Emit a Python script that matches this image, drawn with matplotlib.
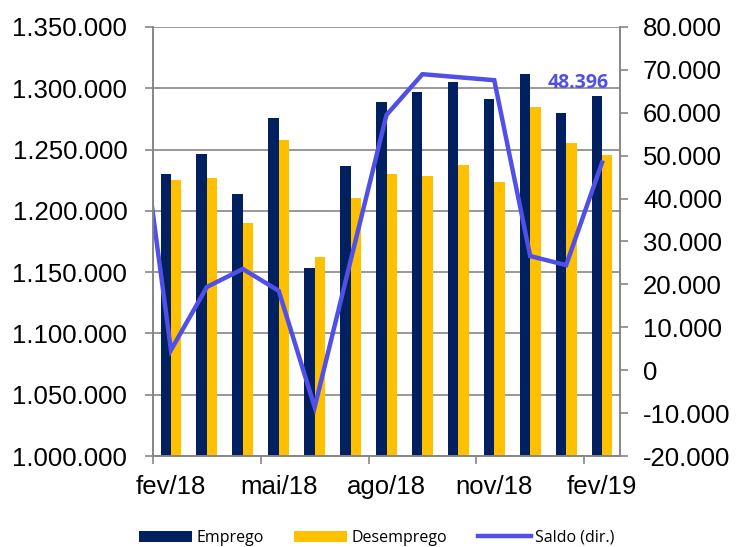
import matplotlib
matplotlib.use('Agg')
import matplotlib.pyplot as plt
from matplotlib.ticker import FuncFormatter
import numpy as np

# dados (meses fev/18 .. fev/19)
meses = ['fev/18', 'mar/18', 'abr/18', 'mai/18', 'jun/18', 'jul/18', 'ago/18',
         'set/18', 'out/18', 'nov/18', 'dez/18', 'jan/19', 'fev/19']
emprego = [1229800, 1246400, 1213800, 1276000, 1153600, 1236300, 1289100,
           1297200, 1305400, 1291000, 1311700, 1279800, 1293700]
desemprego = [1225200, 1227000, 1190300, 1257800, 1162400, 1210500, 1229800,
              1228700, 1237400, 1223500, 1285000, 1255100, 1245300]
# saldo comeca em jan/18 (fica cortado na borda esquerda)
saldo_jan18 = 68000
saldo = [4700, 19400, 23600, 18500, -8600, 25500, 59500,
         69000, 68300, 67600, 26600, 24500, 48396]
rotulos_x = ['fev/18', 'mai/18', 'ago/18', 'nov/18', 'fev/19']

navy = '#002060'
gold = '#FFC000'
roxo = '#5050E8'
cinza = '#868686'

plt.rcParams['font.family'] = ['Liberation Sans', 'DejaVu Sans']

fig = plt.figure(figsize=(7.36, 5.47), dpi=100)
ax = fig.add_axes([153/736, 1 - 456/547, (620 - 153)/736, (456 - 27)/547])
ax2 = ax.twinx()

x = np.arange(len(meses))
w = 0.29
ax.bar(x - w/2, emprego, w, color=navy, label='Emprego', zorder=2)
ax.bar(x + w/2, desemprego, w, color=gold, label='Desemprego', zorder=2)

xs = np.concatenate([[-1], x])
ys = [saldo_jan18] + saldo
ax2.plot(xs, ys, color=roxo, lw=3.2, label='Saldo (dir.)', solid_joinstyle='miter')
ax2.annotate(f'{saldo[-1]:,.0f}'.replace(',', '.'), (x[-1], saldo[-1]),
             xytext=(7, 75), textcoords='offset pixels', ha='right', va='baseline',
             color=roxo, fontsize=14, fontweight='bold', family=['Open Sans', 'DejaVu Sans'])

ax.set_xlim(-0.5, len(meses) - 0.5)
ax.set_ylim(1000000, 1350000)
ax.set_yticks(np.arange(1000000, 1350001, 50000))
ax2.set_ylim(-20000, 80000)
ax2.set_yticks(np.arange(-20000, 80001, 10000))

fmt = FuncFormatter(lambda v, p: f'{v:,.0f}'.replace(',', '.'))
ax.yaxis.set_major_formatter(fmt)
ax2.yaxis.set_major_formatter(fmt)

# rotulos no centro do mes, marcas nas divisas
ax.set_xticks(np.arange(0, len(meses), 3))
ax.set_xticklabels(rotulos_x)
ax.set_xticks(np.arange(-0.5, len(meses), 3), minor=True)

ax.grid(axis='y', color=cinza, lw=1.2, zorder=0)
ax.set_axisbelow(True)

for a in (ax, ax2):
    a.spines['top'].set_visible(False)
    for s in ('left', 'right', 'bottom'):
        a.spines[s].set_color(cinza)
        a.spines[s].set_linewidth(1.2)
ax.tick_params(axis='y', length=5.5, width=1.2, color=cinza, labelsize=18.5, pad=13)
ax.tick_params(axis='x', which='major', length=0, labelsize=18.5, pad=14)
ax.tick_params(axis='x', which='minor', length=5.5, width=1.2, color=cinza)
ax2.tick_params(axis='y', length=5.5, width=1.2, color=cinza, labelsize=18.5, pad=11)

h1, l1 = ax.get_legend_handles_labels()
h2, l2 = ax2.get_legend_handles_labels()
fig.legend(h1 + h2, l1 + l2, loc='center', bbox_to_anchor=(377/736, 1 - 538/547),
           ncol=3, frameon=False, handlelength=3.3, handletextpad=0.3,
           columnspacing=1.9, prop={'family': ['Open Sans', 'DejaVu Sans'], 'size': 11.5})

fig.savefig('out.png', dpi=100)
